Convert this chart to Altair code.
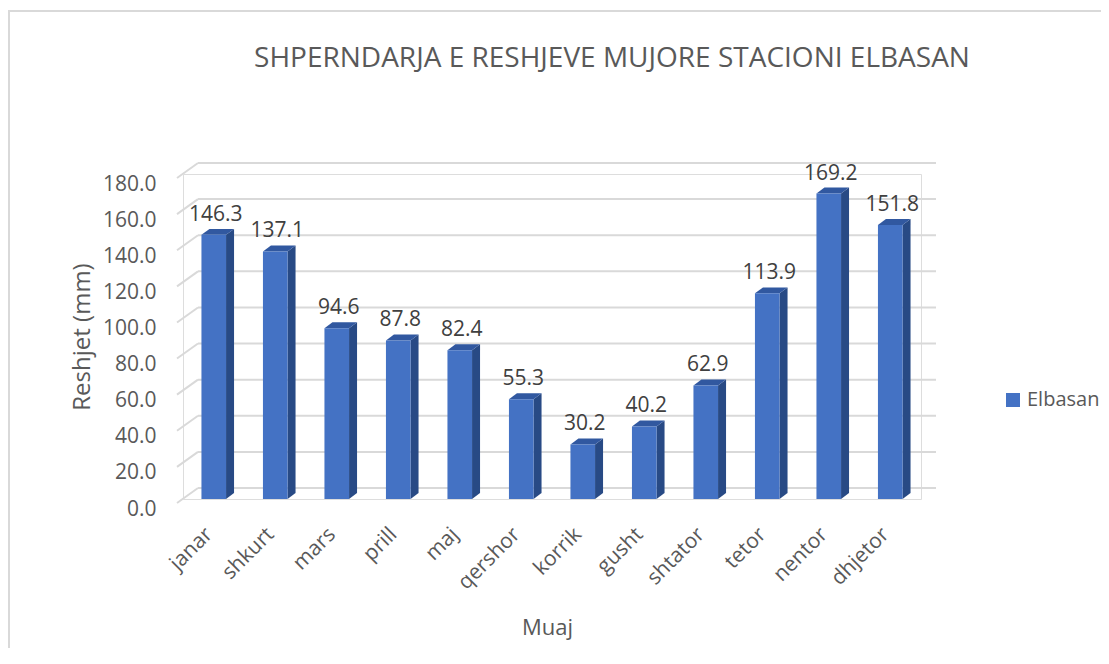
import json
import altair as alt
import pandas as pd

# ---- data ----
months = ["janar", "shkurt", "mars", "prill", "maj", "qershor",
          "korrik", "gusht", "shtator", "tetor", "nentor", "dhjetor"]
values = [146.3, 137.1, 94.6, 87.8, 82.4, 55.3, 30.2, 40.2, 62.9, 113.9, 169.2, 151.8]
series_name = "Elbasan"
y_ticks = [0, 20, 40, 60, 80, 100, 120, 140, 160, 180]

title_text = "SHPERNDARJA E RESHJEVE MUJORE STACIONI ELBASAN"
y_title = "Reshjet (mm)"
x_title = "Muaj"

# ---- tables built from the arrays ----
bars = pd.DataFrame({"month": months, "value": values,
                     "idx": list(range(len(months))), "series": series_name})
# two corners (front / back) per bar for the 3D faces
faces = pd.concat([bars.assign(k=0), bars.assign(k=1)], ignore_index=True)
grid = pd.DataFrame({"tick": y_ticks})

# ---- style ----
FONT = "Open Sans"
FRONT = "#4472C4"
TOP = "#3158A0"
SIDE = "#284A85"
GRID = "#D9D9D9"
TXT = "#595959"
HW = 0.2     # half bar width (category units)
DX = 0.13    # 3D depth in x (category units)
DY = 3.3     # 3D depth in y (value units)
N = len(months)

xs = alt.Scale(domain=[0, N], nice=False, zero=False)
ys = alt.Scale(domain=[0, 180], nice=False, zero=True)

x_axis = alt.Axis(values=[i + 0.5 for i in range(N)],
                  labelExpr=f"{json.dumps(months)}[floor(datum.value)]",
                  labelAngle=-45, labelAlign="right", labelBaseline="middle",
                  labelPadding=32, labelOffset=-5, labelFontSize=21, labelFont=FONT,
                  labelColor=TXT, labelOverlap=False, labelBound=False,
                  domain=False, ticks=False, grid=False,
                  title=x_title, titleFontSize=22, titleFont=FONT, titleColor=TXT,
                  titleFontWeight="normal", titleY=128, titleX=364,
                  titleAlign="center", titleBaseline="middle")
y_axis = alt.Axis(values=y_ticks, format=".1f", labelPadding=27, labelOffset=10,
                  labelFontSize=21, labelFont=FONT, labelColor=TXT,
                  domain=False, ticks=False, grid=False,
                  title=y_title, titleFontSize=24, titleFont=FONT, titleColor=TXT,
                  titleFontWeight="normal", titlePadding=8)

gbase = alt.Chart(grid).transform_calculate(x0="0", x1=str(N))

back_grid = gbase.mark_rule(color=GRID, strokeWidth=2, xOffset=15, x2Offset=15,
                            yOffset=-11, y2Offset=-11).encode(
    x=alt.X("x0:Q", scale=xs, axis=x_axis),
    x2="x1:Q",
    y=alt.Y("tick:Q", scale=ys, axis=y_axis),
)
side_grid = gbase.mark_rule(color=GRID, strokeWidth=2, xOffset=-6, yOffset=4,
                            x2Offset=15, y2Offset=-11).encode(
    x=alt.X("x0:Q", scale=xs, axis=x_axis),
    x2="x0:Q",
    y=alt.Y("tick:Q", scale=ys, axis=y_axis),
    y2="tick:Q",
)

bbase = alt.Chart(bars).transform_calculate(
    left=f"datum.idx + 0.5 - {HW}", right=f"datum.idx + 0.5 + {HW}",
    center="datum.idx + 0.5", zero="0")

# side face (parallelogram)
side = alt.Chart(faces).transform_calculate(
    sx=f"datum.idx + 0.5 + {HW} + datum.k * {DX}",
    sy=f"datum.value + datum.k * {DY}",
    sy2=f"datum.k * {DY}",
).mark_area(color=SIDE, orient="vertical").encode(
    x=alt.X("sx:Q", scale=xs, axis=x_axis),
    y=alt.Y("sy:Q", scale=ys, axis=y_axis, stack=None),
    y2="sy2:Q",
    detail="month:N",
)

# top face (parallelogram)
top = alt.Chart(faces).transform_calculate(
    ty=f"datum.value + datum.k * {DY}",
    tx=f"datum.idx + 0.5 - {HW} + datum.k * {DX}",
    tx2=f"datum.idx + 0.5 + {HW} + datum.k * {DX}",
).mark_area(color=TOP, orient="horizontal").encode(
    y=alt.Y("ty:Q", scale=ys, axis=y_axis),
    x=alt.X("tx:Q", scale=xs, axis=x_axis, stack=None),
    x2="tx2:Q",
    detail="month:N",
)

front = bbase.mark_bar().encode(
    x=alt.X("left:Q", scale=xs, axis=x_axis),
    x2="right:Q",
    y=alt.Y("value:Q", scale=ys, axis=y_axis),
    y2="zero:Q",
    color=alt.Color("series:N",
                    scale=alt.Scale(domain=[series_name], range=[FRONT]),
                    legend=alt.Legend(title=None, orient="none", legendX=820, legendY=216,
                                      symbolType="square", symbolSize=196,
                                      symbolStrokeWidth=0, padding=0,
                                      labelFontSize=20, labelFont=FONT, labelColor=TXT,
                                      labelOffset=4)),
)

labels = bbase.mark_text(font=FONT, fontSize=21, color="#404040", baseline="alphabetic",
                         dy=-14, dx=2).encode(
    x=alt.X("center:Q", scale=xs, axis=x_axis),
    y=alt.Y("value:Q", scale=ys, axis=y_axis),
    text=alt.Text("value:Q", format=".1f"),
)

frame = alt.Chart(grid).transform_aggregate(n="count()").mark_rect(
    fill="white", stroke=GRID, strokeWidth=2, fillOpacity=0).encode(
    x=alt.value(-174), y=alt.value(-163), x2=alt.value(960), y2=alt.value(520))

chart = alt.layer(frame, back_grid, side_grid, side, top, front, labels).properties(
    width=738, height=325,
    autosize=alt.AutoSizeParams(type="none"),
    padding={"left": 175, "top": 166, "right": 180, "bottom": 149},
    title=alt.TitleParams(title_text, font=FONT, fontSize=28, fontWeight="normal",
                          color=TXT, anchor="middle", dx=60, offset=0, dy=63),
).configure_view(stroke=None).configure(background="white")

chart.save("out.html", embed_options={"renderer": "svg", "actions": False})
